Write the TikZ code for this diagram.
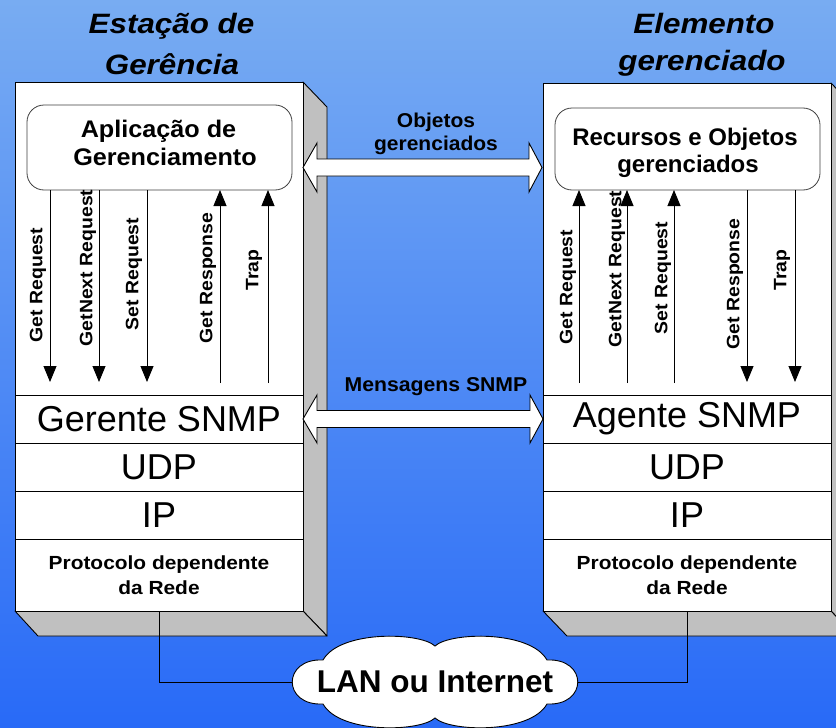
\documentclass[tikz,border=0pt]{standalone}
\usepackage{fontspec}
\setmainfont{Liberation Sans}
\usetikzlibrary{arrows.meta,calc}
\definecolor{bgtop}{RGB}{120,172,242}
\definecolor{bgbot}{RGB}{40,106,247}
\definecolor{sidegrey}{RGB}{192,192,192}
\newcommand{\sx}[2]{\scalebox{#1}[1]{#2}}
\newcommand{\fs}[1]{\fontsize{#1}{#1}\selectfont}
\begin{document}
\begin{tikzpicture}[x=1pt,y=-1pt,
  face/.style={draw=black, fill=white, line width=0.9pt, inner sep=0pt, outer sep=0pt},
  sideface/.style={draw=black, fill=sidegrey, line width=0.9pt, line join=round},
  rbox/.style={draw=black!75, fill=white, rounded corners=17pt, line width=0.8pt, inner sep=0pt, outer sep=0pt},
  msg/.style={line width=0.9pt, -{Triangle[width=13pt,length=16pt]}},
  blk/.style={draw=black, fill=white, line width=0.9pt, line join=miter},
  wire/.style={draw=black, line width=1pt},
  cloudshape/.style={draw=black, fill=white, line width=0.9pt},
  vlab/.style={rotate=90, inner sep=0pt, font=\bfseries\fs{18}},
  title/.style={inner sep=0pt, anchor=base, font=\bfseries\itshape\fs{28}},
  layer/.style={face, minimum width=288pt, font=\fs{36}},
  txt/.style={inner sep=0pt, anchor=base, font=\bfseries\fs{20}},
  boxtxt/.style={inner sep=0pt, anchor=base, font=\bfseries\fs{24}}
]
\useasboundingbox (0,0) rectangle (836,728);
\shade[top color=bgtop, bottom color=bgbot] (0,0) rectangle (836,728);
\clip (0,0) rectangle (836,728);

% ---------- titles ----------
\node[title] (t1a) at (171.5,34) {\sx{1.12}{Estação de}};
\node[title] (t1b) at (172,74) {\sx{1.12}{Gerência}};
\node[title] (t2a) at (704,34) {\sx{1.12}{Elemento}};
\node[title] (t2b) at (702,70) {\sx{1.12}{gerenciado}};

% ---------- left box ----------
\draw[sideface] (303,82) -- (327,107) -- (327,636) -- (303,611) -- cycle;
\draw[sideface] (15,611) -- (38,636) -- (327,636) -- (303,611) -- cycle;
\node[face, minimum width=288pt, minimum height=313pt, anchor=north west] (Lfront) at (15,82) {};
\node[layer, minimum height=48pt] (Lsnmp) at (159,419) {Gerente SNMP};
\node[layer, minimum height=48pt] (Ludp) at (159,467) {UDP};
\node[layer, minimum height=48pt] (Lip) at (159,515) {IP};
\node[layer, minimum height=72pt, align=center, font=\bfseries\fontsize{19}{25}\selectfont] (Lnet) at (159,575) {\sx{1.1}{Protocolo dependente}\\\sx{1.1}{da Rede}};
\node[rbox, minimum width=265pt, minimum height=85pt] (Lapp) at (159.5,147.5) {};
\node[boxtxt] (Lapp1) at (158.5,137) {\sx{1.05}{Aplicação de}};
\node[boxtxt] (Lapp2) at (165,165) {\sx{1.05}{Gerenciamento}};

\coordinate (a1) at (50,0);
\coordinate (a2) at (99,0);
\coordinate (a3) at (147,0);
\coordinate (a4) at (220,0);
\coordinate (a5) at (268,0);
\draw[msg, shorten >=13pt] (Lapp.south -| a1) -- (Lsnmp.north -| a1);
\draw[msg, shorten >=13pt] (Lapp.south -| a2) -- (Lsnmp.north -| a2);
\draw[msg, shorten >=13pt] (Lapp.south -| a3) -- (Lsnmp.north -| a3);
\draw[msg, shorten <=12pt] (Lsnmp.north -| a4) -- (Lapp.south -| a4);
\draw[msg, shorten <=12pt] (Lsnmp.north -| a5) -- (Lapp.south -| a5);
\node[vlab] (l1) at (38,285) {\sx{1.08}{Get Request}};
\node[vlab] (l2) at (88,268) {\sx{1.08}{GetNext Request}};
\node[vlab] (l3) at (134,274) {\sx{1.08}{Set Request}};
\node[vlab] (l4) at (208,278) {\sx{1.08}{Get Response}};
\node[vlab] (l5) at (254,270) {\sx{1.08}{Trap}};

% ---------- right box ----------
\draw[sideface] (831,83) -- (855,108) -- (855,636) -- (831,611) -- cycle;
\draw[sideface] (543,611) -- (567,636) -- (855,636) -- (831,611) -- cycle;
\node[face, minimum width=288pt, minimum height=312pt, anchor=north west] (Rfront) at (543,83) {};
\node[layer, minimum height=48pt] (Rsnmp) at (687,419) {Agente SNMP};
\node[layer, minimum height=48pt] (Rudp) at (687,467) {UDP};
\node[layer, minimum height=48pt] (Rip) at (687,515) {IP};
\node[layer, minimum height=72pt, align=center, font=\bfseries\fontsize{19}{25}\selectfont] (Rnet) at (687,575) {\sx{1.1}{Protocolo dependente}\\\sx{1.1}{da Rede}};
\node[rbox, minimum width=265pt, minimum height=82pt] (Rapp) at (687.5,149) {};
\node[boxtxt] (Rapp1) at (685,145) {Recursos e Objetos};
\node[boxtxt] (Rapp2) at (688,172) {gerenciados};

\coordinate (b1) at (579,0);
\coordinate (b2) at (627,0);
\coordinate (b3) at (674,0);
\coordinate (b4) at (747,0);
\coordinate (b5) at (795,0);
\draw[msg, shorten <=12pt] (Rsnmp.north -| b1) -- (Rapp.south -| b1);
\draw[msg, shorten <=12pt] (Rsnmp.north -| b2) -- (Rapp.south -| b2);
\draw[msg, shorten <=12pt] (Rsnmp.north -| b3) -- (Rapp.south -| b3);
\draw[msg, shorten >=13pt] (Rapp.south -| b4) -- (Rsnmp.north -| b4);
\draw[msg, shorten >=13pt] (Rapp.south -| b5) -- (Rsnmp.north -| b5);
\node[vlab] (r1) at (568,287) {\sx{1.08}{Get Request}};
\node[vlab] (r2) at (617,269) {\sx{1.08}{GetNext Request}};
\node[vlab] (r3) at (663,278) {\sx{1.08}{Set Request}};
\node[vlab] (r4) at (735,284) {\sx{1.08}{Get Response}};
\node[vlab] (r5) at (782,270) {\sx{1.08}{Trap}};

% ---------- block arrows ----------
\coordinate (oa) at (303,167.5);
\coordinate (ob) at (542,167.5);
\draw[blk] (oa) -- ++(14,-24.5) -- ++(0,16) -- ($(ob)+(-13,-8.5)$) -- ++(0,-16) -- (ob)
  -- ++(-13,24.5) -- ++(0,-16) -- ($(oa)+(14,8.5)$) -- ++(0,16) -- cycle;
\node[txt] (obj1) at (436,127) {\sx{1.05}{Objetos}};
\node[txt] (obj2) at (436,150) {\sx{1.05}{gerenciados}};

\coordinate (oc) at (Lsnmp.east);
\coordinate (od) at (Rsnmp.west);
\draw[blk] (oc) -- ++(14,-24) -- ++(0,15.5) -- ($(od)+(-13,-8.5)$) -- ++(0,-15.5) -- (od)
  -- ++(-13,24) -- ++(0,-15.5) -- ($(oc)+(14,8.5)$) -- ++(0,15.5) -- cycle;
\node[txt] (msgs) at (436,391) {\sx{1.06}{Mensagens SNMP}};

% ---------- network ----------
\coordinate (netW) at (292,682);
\coordinate (netE) at (578,682);
\draw[wire] (Lnet.south) |- (netW);
\draw[wire] (Rnet.south) |- (netE);
\draw[cloudshape] (435,646) .. controls (450,632) and (530,630) .. (547,660)
  .. controls (588,658) and (588,706) .. (547,704)
  .. controls (530,734) and (450,732) .. (435,718)
  .. controls (420,732) and (340,734) .. (323,704)
  .. controls (282,706) and (282,658) .. (323,660)
  .. controls (340,630) and (420,632) .. cycle;
\node[inner sep=0pt, font=\bfseries\fs{31.5}] (nettxt) at (435,682) {LAN ou Internet};
\end{tikzpicture}
\end{document}
